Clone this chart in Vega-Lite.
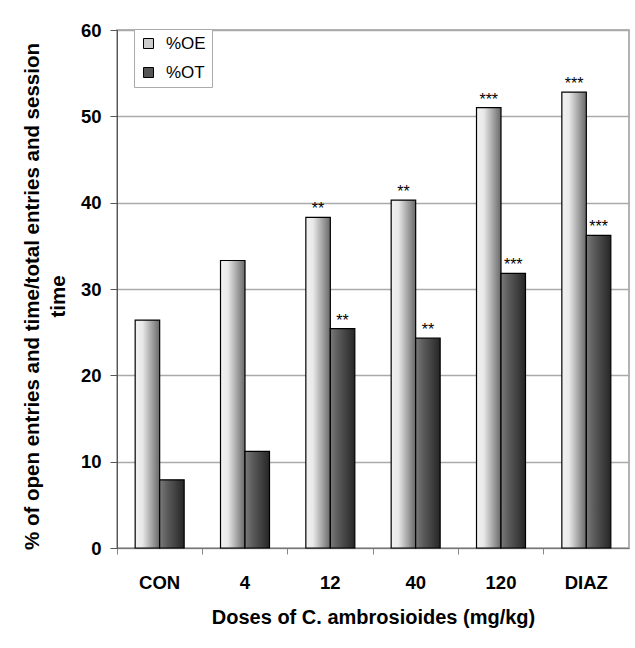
{
  "$schema": "https://vega.github.io/schema/vega-lite/v6.json",
  "width": 512,
  "height": 518,
  "autosize": {"type": "none"},
  "padding": {"left": 117, "top": 30, "right": 6, "bottom": 100},
  "background": "white",
  "config": {
    "font": "Liberation Sans",
    "view": {"stroke": "#9a9a9a", "strokeWidth": 1.5}
  },
  "data": {
    "values": [
      {"dose": "CON", "series": "%OE", "value": 26.4, "sig": ""},
      {"dose": "CON", "series": "%OT", "value": 7.9, "sig": ""},
      {"dose": "4", "series": "%OE", "value": 33.3, "sig": ""},
      {"dose": "4", "series": "%OT", "value": 11.2, "sig": ""},
      {"dose": "12", "series": "%OE", "value": 38.3, "sig": "**"},
      {"dose": "12", "series": "%OT", "value": 25.4, "sig": "**"},
      {"dose": "40", "series": "%OE", "value": 40.3, "sig": "**"},
      {"dose": "40", "series": "%OT", "value": 24.3, "sig": "**"},
      {"dose": "120", "series": "%OE", "value": 51.0, "sig": "***"},
      {"dose": "120", "series": "%OT", "value": 31.8, "sig": "***"},
      {"dose": "DIAZ", "series": "%OE", "value": 52.8, "sig": "***"},
      {"dose": "DIAZ", "series": "%OT", "value": 36.2, "sig": "***"}
    ]
  },
  "encoding": {
    "x": {
      "field": "dose",
      "type": "nominal",
      "sort": ["CON", "4", "12", "40", "120", "DIAZ"],
      "scale": {"paddingInner": 0.426, "paddingOuter": 0.213},
      "axis": {
        "title": "Doses of C. ambrosioides  (mg/kg)",
        "titleFont": "Liberation Sans",
        "titleFontSize": 20,
        "titleFontWeight": "bold",
        "titleColor": "black",
        "titlePadding": 16,
        "labelFont": "Liberation Sans",
        "labelFontSize": 18.5,
        "labelFontWeight": "bold",
        "labelColor": "black",
        "labelAngle": 0,
        "labelPadding": 19,
        "bandPosition": -0.371,
        "tickSize": 6,
        "tickColor": "#888",
        "domainColor": "#777",
        "grid": false
      }
    },
    "xOffset": {
      "field": "series",
      "type": "nominal",
      "scale": {"paddingInner": 0, "paddingOuter": 0}
    },
    "y": {
      "field": "value",
      "type": "quantitative",
      "scale": {"domain": [0, 60]},
      "axis": {
        "values": [0, 10, 20, 30, 40, 50, 60],
        "title": ["% of open entries and time/total entries and session", "time"],
        "titleFont": "Liberation Sans",
        "titleFontSize": 20.5,
        "titleFontWeight": "bold",
        "titleColor": "black",
        "titleLineHeight": 25.5,
        "titlePadding": 12,
        "titleY": 266,
        "labelFont": "Liberation Sans",
        "labelFontSize": 18.5,
        "labelFontWeight": "bold",
        "labelColor": "black",
        "labelPadding": 9,
        "tickSize": 7,
        "tickColor": "#555",
        "domainColor": "#555",
        "gridColor": "#aaa",
        "gridWidth": 1.5
      }
    }
  },
  "layer": [
    {
      "mark": {"type": "bar", "stroke": "black", "strokeWidth": 1.2},
      "encoding": {
        "fill": {
          "condition": {
            "test": "datum.series === '%OE'",
            "value": {"gradient": "linear", "x1": 0, "x2": 1, "y1": 0, "y2": 0, "stops": [{"offset": 0, "color": "#f2f2f2"}, {"offset": 0.3, "color": "#e8e8e8"}, {"offset": 1, "color": "#686868"}]}
          },
          "value": {"gradient": "linear", "x1": 0, "x2": 1, "y1": 0, "y2": 0, "stops": [{"offset": 0, "color": "#7a7a7a"}, {"offset": 0.3, "color": "#5c5c5c"}, {"offset": 1, "color": "#262626"}]}
        }
      }
    },
    {
      "mark": {"type": "point", "shape": "square", "filled": true, "opacity": 0},
      "encoding": {
        "color": {
          "field": "series",
          "type": "nominal",
          "scale": {"domain": ["%OE", "%OT"], "range": ["#cccccc", "#555555"]},
          "legend": {
            "title": null,
            "orient": "none",
            "legendX": 17,
            "legendY": -1,
            "padding": 6,
            "strokeColor": "#aaa",
            "fillColor": "white",
            "symbolType": "square",
            "symbolSize": 100,
            "symbolOpacity": 1,
            "symbolStrokeColor": "black",
            "symbolStrokeWidth": 1,
            "labelFont": "Liberation Sans",
            "labelFontSize": 17,
            "labelColor": "black",
            "rowPadding": 11,
            "labelOffset": 9,
            "encode": {
              "symbols": {
                "update": {
                  "fill": {"signal": "datum.value === '%OE' ? {gradient: 'linear', x1: 0, y1: 0, x2: 1, y2: 0, stops: [{offset: 0, color: '#f4f4f4'}, {offset: 1, color: '#6a6a6a'}]} : {gradient: 'linear', x1: 0, y1: 0, x2: 1, y2: 0, stops: [{offset: 0, color: '#7a7a7a'}, {offset: 1, color: '#262626'}]}"},
                  "stroke": {"value": "black"},
                  "opacity": {"value": 1},
                  "fillOpacity": {"value": 1}
                }
              }
            }
          }
        }
      }
    },
    {
      "mark": {"type": "text", "dy": -3, "fontSize": 16, "color": "black", "baseline": "alphabetic"},
      "encoding": {
        "text": {"field": "sig"}
      }
    }
  ]
}
